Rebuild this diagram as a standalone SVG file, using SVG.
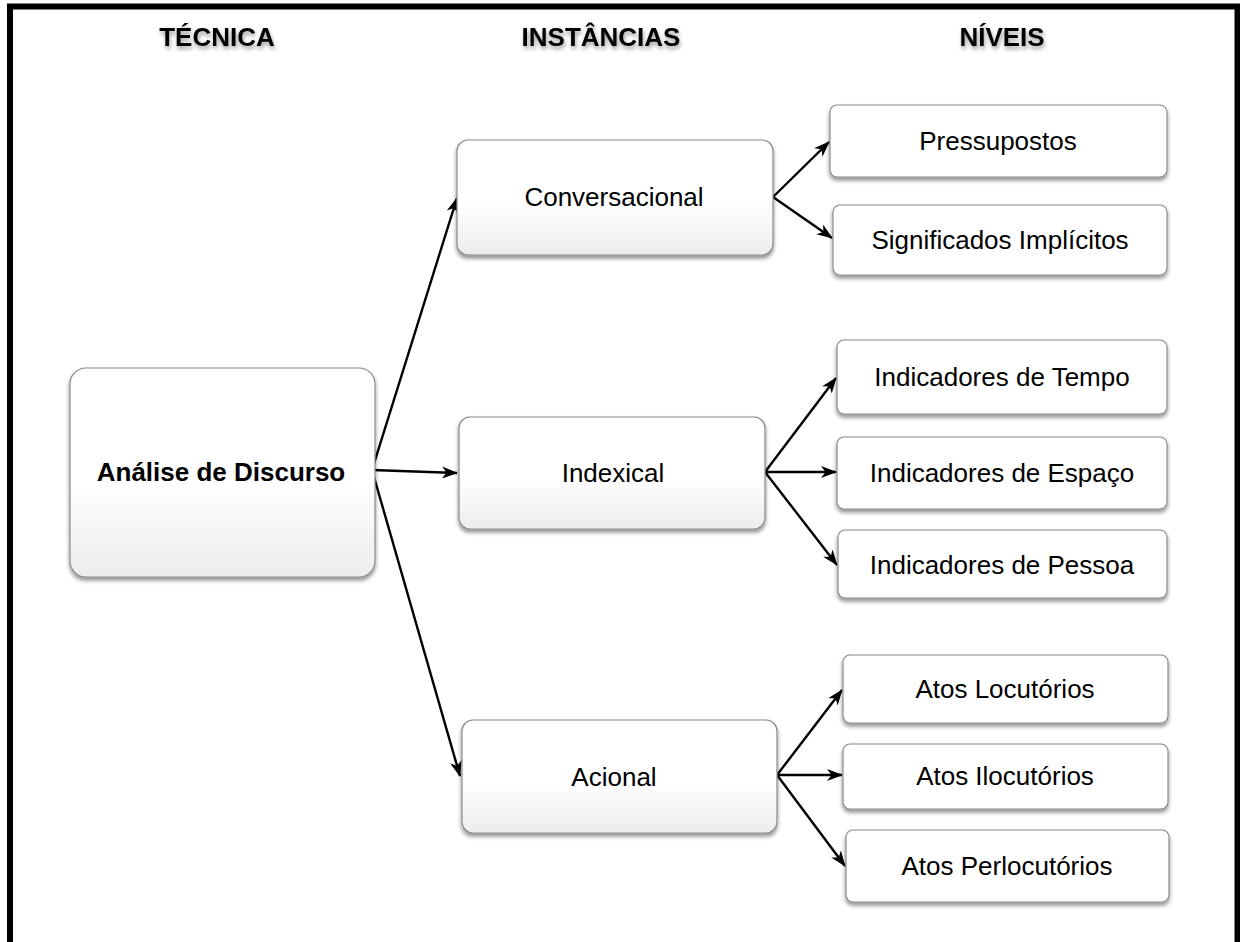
<svg xmlns="http://www.w3.org/2000/svg" width="1240" height="942" viewBox="0 0 1240 942">
<defs>
<linearGradient id="g" x1="0" y1="0" x2="0" y2="1">
<stop offset="0" stop-color="#ffffff"/>
<stop offset="0.55" stop-color="#ffffff"/>
<stop offset="1" stop-color="#ececec"/>
</linearGradient>
<filter id="sh" x="-10%" y="-10%" width="120%" height="130%">
<feGaussianBlur in="SourceAlpha" stdDeviation="2"/>
<feOffset dx="0" dy="3" result="b"/>
<feComponentTransfer><feFuncA type="linear" slope="0.45"/></feComponentTransfer>
<feMerge><feMergeNode/><feMergeNode in="SourceGraphic"/></feMerge>
</filter>
<filter id="tsh" x="-10%" y="-30%" width="120%" height="180%">
<feGaussianBlur in="SourceAlpha" stdDeviation="2"/>
<feOffset dx="1" dy="3"/>
<feComponentTransfer><feFuncA type="linear" slope="0.4"/></feComponentTransfer>
<feMerge><feMergeNode/><feMergeNode in="SourceGraphic"/></feMerge>
</filter>
<marker id="ah" viewBox="0 0 16 12" refX="15" refY="6" markerWidth="16" markerHeight="12" markerUnits="userSpaceOnUse" orient="auto">
<path d="M0,0 L16,6 L0,12 L4.5,6 Z" fill="#000"/>
</marker>
<style>
.n{fill:url(#g);stroke:#8a8a8a;stroke-width:1.2;filter:url(#sh)}
.l{fill:#fff;stroke:#8a8a8a;stroke-width:1.2;filter:url(#sh)}
.t{font-family:"Liberation Sans",Arial,sans-serif;font-size:26px;fill:#000;text-anchor:middle}
.b{font-weight:bold}
.h{font-family:"Liberation Sans",Arial,sans-serif;font-size:26px;font-weight:bold;fill:#000;text-anchor:middle;filter:url(#tsh)}
.c{stroke:#000;stroke-width:2.4;fill:none;marker-end:url(#ah)}
</style>
</defs>
<rect width="1240" height="942" fill="#fff"/>
<g id="frame" stroke="#000" stroke-width="6" fill="none">
<path d="M10,942 V6.5 H1237.5 V942"/>
</g>
<g id="headers">
<text class="h" x="217" y="46">TÉCNICA</text>
<text class="h" x="601" y="46">INSTÂNCIAS</text>
<text class="h" x="1002" y="46">NÍVEIS</text>
</g>
<g id="connectors">
<line class="c" x1="372" y1="470" x2="457" y2="198"/>
<line class="c" x1="372" y1="470" x2="457" y2="473"/>
<line class="c" x1="372" y1="470" x2="460" y2="776"/>
<line class="c" x1="773" y1="197" x2="829" y2="142"/>
<line class="c" x1="773" y1="197" x2="832" y2="238"/>
<line class="c" x1="765" y1="472" x2="836" y2="378"/>
<line class="c" x1="765" y1="472" x2="836" y2="472"/>
<line class="c" x1="765" y1="472" x2="837" y2="565"/>
<line class="c" x1="777" y1="775" x2="842" y2="690"/>
<line class="c" x1="777" y1="775" x2="842" y2="775"/>
<line class="c" x1="777" y1="775" x2="845" y2="866"/>
</g>
<g id="n-analise">
<rect class="n" x="70" y="368" width="305" height="209" rx="16"/>
<text class="t b" x="221" y="481">Análise de Discurso</text>
</g>
<g id="n-conversacional">
<rect class="n" x="457" y="140" width="316" height="115" rx="11"/>
<text class="t" x="614" y="206">Conversacional</text>
</g>
<g id="n-indexical">
<rect class="n" x="459" y="417" width="306" height="112" rx="11"/>
<text class="t" x="613" y="482">Indexical</text>
</g>
<g id="n-acional">
<rect class="n" x="462" y="720" width="315" height="113" rx="11"/>
<text class="t" x="614" y="786">Acional</text>
</g>
<g id="n-pressupostos">
<rect class="l" x="830" y="105" width="337" height="72" rx="7"/>
<text class="t" x="998" y="150">Pressupostos</text>
</g>
<g id="n-significados">
<rect class="l" x="833" y="205" width="334" height="70" rx="7"/>
<text class="t" x="1000" y="249">Significados Implícitos</text>
</g>
<g id="n-tempo">
<rect class="l" x="837" y="340" width="330" height="74" rx="7"/>
<text class="t" x="1002" y="386">Indicadores de Tempo</text>
</g>
<g id="n-espaco">
<rect class="l" x="837" y="437" width="330" height="72" rx="7"/>
<text class="t" x="1002" y="482">Indicadores de Espaço</text>
</g>
<g id="n-pessoa">
<rect class="l" x="838" y="530" width="329" height="68" rx="7"/>
<text class="t" x="1002" y="574">Indicadores de Pessoa</text>
</g>
<g id="n-locutorios">
<rect class="l" x="843" y="655" width="325" height="68" rx="7"/>
<text class="t" x="1005" y="698">Atos Locutórios</text>
</g>
<g id="n-ilocutorios">
<rect class="l" x="843" y="744" width="325" height="65" rx="7"/>
<text class="t" x="1005" y="785">Atos Ilocutórios</text>
</g>
<g id="n-perlocutorios">
<rect class="l" x="846" y="830" width="323" height="72" rx="7"/>
<text class="t" x="1007" y="875">Atos Perlocutórios</text>
</g>
</svg>
